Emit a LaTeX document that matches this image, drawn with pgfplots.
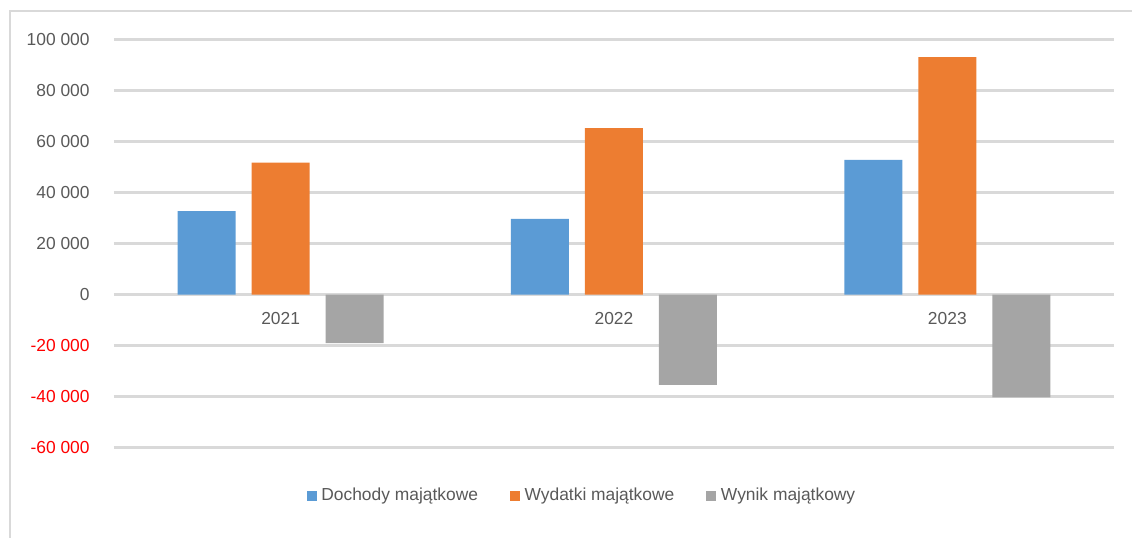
\documentclass[border=0pt]{standalone}
\usepackage{pgfplots}
\pgfplotsset{compat=1.18}
\usepackage{fontspec}
\setmainfont{Liberation Sans}
\definecolor{cblue}{HTML}{5B9BD5}
\definecolor{corange}{HTML}{ED7D31}
\definecolor{cgray}{HTML}{A5A5A5}
\definecolor{gridc}{HTML}{D9D9D9}
\definecolor{tickc}{HTML}{595959}
\definecolor{negred}{HTML}{FF0000}
\begin{document}
\begin{tikzpicture}
\useasboundingbox (0,0) rectangle (566pt,268.5pt);
\draw[color=gridc, line width=1pt] (5pt,-10pt) -- (5pt,263pt) -- (600pt,263pt);
\begin{axis}[
  at={(57pt,44.75pt)}, anchor=south west,
  scale only axis, width=500pt, height=204pt,
  xmin=-0.5, xmax=2.5, ymin=-60000, ymax=100000,
  ybar, bar width=0.174,
  axis x line*=middle, axis y line*=left,
  axis line style={draw=none},
  scaled y ticks=false,
  xtick={0,1,2}, xticklabels={2021,2022,2023},
  ytick={-60000,-40000,-20000,0,20000,40000,60000,80000,100000},
  yticklabels={\textcolor{negred}{-60 000},\textcolor{negred}{-40 000},\textcolor{negred}{-20 000},0,20 000,40 000,60 000,80 000,100 000},
  major tick length=0pt,
  ymajorgrids, grid style={color=gridc, line width=1.1pt},
  /pgf/number format/assume math mode=true,
  tick label style={font=\fontsize{8.7}{10}\selectfont, text=tickc},
  yticklabel style={anchor=east, inner sep=0pt, xshift=-12pt},
  xticklabel style={anchor=north, inner sep=0pt, yshift=-8.5pt},
  legend columns=3,
  legend style={at={(0.469,-0.1185)}, anchor=center, draw=none, fill=none,
    font=\fontsize{8.7}{10}\selectfont, text=tickc,
    /tikz/every odd column/.append style={column sep=0.3pt},
    /tikz/every even column/.append style={column sep=14pt}},
  legend image code/.code={\fill[#1] (0pt,-2.5pt) rectangle (5pt,2.5pt);},
]
\addplot[fill=cblue, draw=none, bar shift=-0.222] coordinates {(0,32700) (1,29700) (2,52800)};
\addplot[fill=corange, draw=none, bar shift=0] coordinates {(0,51700) (1,65200) (2,93100)};
\addplot[fill=cgray, draw=none, bar shift=0.222] coordinates {(0,-19100) (1,-35400) (2,-40300)};
\legend{Dochody majątkowe, Wydatki majątkowe, Wynik majątkowy}
\end{axis}
\end{tikzpicture}
\end{document}
